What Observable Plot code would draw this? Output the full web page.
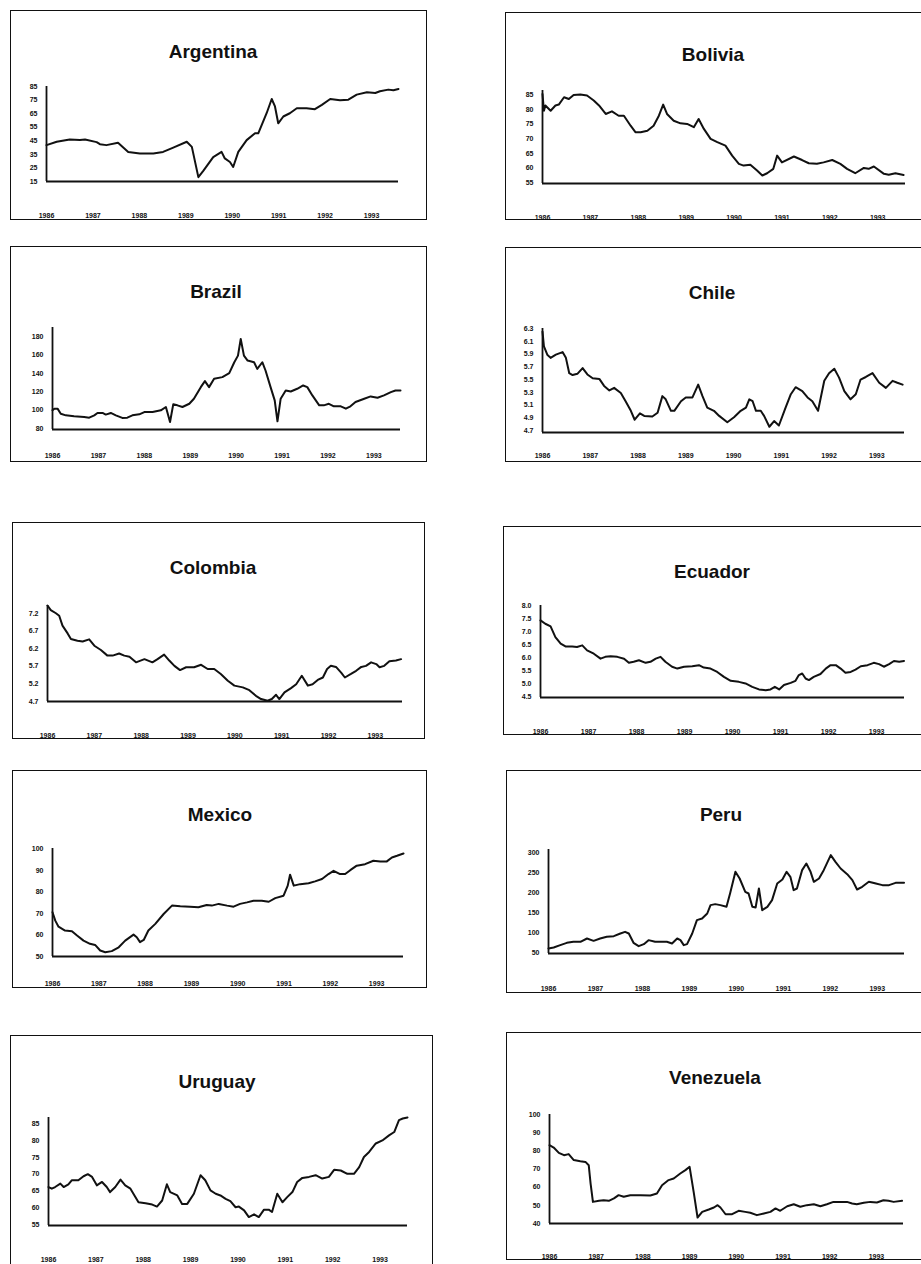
<!DOCTYPE html>
<html><head><meta charset="utf-8">
<script src="https://cdn.jsdelivr.net/npm/d3@7"></script>
<script src="https://cdn.jsdelivr.net/npm/@observablehq/plot@0.6"></script>
<style>
html,body{margin:0;padding:0;background:#fff;}
body{width:921px;height:1264px;position:relative;overflow:hidden;font-family:"Liberation Sans",Arial,sans-serif;}
.box{position:absolute;border:1.7px solid #111;box-sizing:border-box;}
.title{position:absolute;transform:translate(-50%,-50%);font-weight:bold;font-size:19px;color:#111;white-space:nowrap;}
</style></head><body>
<script>
// ---- data: [decimal year, value] ----
const yearTicks = [1986, 1987, 1988, 1989, 1990, 1991, 1992, 1993];

const argentina = [[1986.00,41.8],[1986.22,44.3],[1986.50,46],[1986.72,45.5],[1986.83,46],[1987.08,44],[1987.15,42.5],[1987.29,41.8],[1987.54,43.5],[1987.76,36.8],[1988.01,35.6],[1988.30,35.6],[1988.51,36.8],[1988.73,40],[1989.02,44.3],[1989.13,40.5],[1989.27,18.2],[1989.38,23],[1989.59,33],[1989.77,36.8],[1989.84,32],[1989.95,29.4],[1990.02,25.7],[1990.13,36.8],[1990.31,45.5],[1990.49,50.5],[1990.56,50.5],[1990.74,65.3],[1990.85,75.8],[1990.92,70.3],[1990.99,57.9],[1991.10,62.9],[1991.24,65.3],[1991.39,69],[1991.60,69],[1991.78,68.3],[1991.93,71.5],[1992.11,75.8],[1992.32,74.8],[1992.50,75.3],[1992.68,79],[1992.90,80.7],[1993.08,80.2],[1993.18,81.5],[1993.36,82.7],[1993.47,82.2],[1993.58,83.2]];

const bolivia = [[1986.00,85.2],[1986.03,79.5],[1986.06,81.3],[1986.17,79.5],[1986.27,81.3],[1986.34,81.6],[1986.45,84.1],[1986.55,83.5],[1986.65,84.9],[1986.79,85],[1986.93,84.7],[1987.07,83],[1987.18,81.3],[1987.32,78.4],[1987.45,79.3],[1987.59,77.8],[1987.70,77.8],[1987.84,74.4],[1987.94,72.2],[1988.05,72.2],[1988.19,72.7],[1988.32,74.4],[1988.43,77.8],[1988.52,81.6],[1988.60,78.4],[1988.74,76.1],[1988.88,75.2],[1989.02,75],[1989.16,73.9],[1989.26,76.7],[1989.37,73.3],[1989.51,69.9],[1989.65,68.8],[1989.82,67.6],[1989.96,64.2],[1990.10,61.4],[1990.20,60.8],[1990.34,61.1],[1990.48,59.1],[1990.59,57.4],[1990.69,58.2],[1990.82,59.7],[1990.90,64.2],[1991.00,61.9],[1991.25,63.9],[1991.42,62.7],[1991.56,61.6],[1991.73,61.4],[1991.87,61.9],[1992.05,62.7],[1992.22,61.4],[1992.36,59.7],[1992.53,58.2],[1992.71,60],[1992.81,59.7],[1992.92,60.5],[1993.13,58],[1993.23,57.7],[1993.37,58.2],[1993.54,57.6]];

const brazil = [[1986.00,99.9],[1986.04,101.7],[1986.11,101.7],[1986.18,96.2],[1986.29,94.4],[1986.47,93.4],[1986.69,92.6],[1986.80,91.9],[1986.91,94.4],[1986.98,97],[1987.09,97],[1987.16,95.2],[1987.27,97],[1987.38,94.4],[1987.52,91.6],[1987.63,91.9],[1987.74,94.4],[1987.89,95.5],[1988.00,98],[1988.18,98],[1988.36,99.9],[1988.47,103.5],[1988.50,98],[1988.56,87.2],[1988.63,106.4],[1988.72,105.3],[1988.83,103.5],[1988.98,107],[1989.08,112.5],[1989.23,125.1],[1989.32,131.6],[1989.41,125.1],[1989.52,134.2],[1989.70,136],[1989.85,140.3],[1989.96,152.2],[1990.04,159.4],[1990.10,177.5],[1990.17,159.4],[1990.25,154],[1990.39,152.2],[1990.46,145],[1990.57,152.2],[1990.64,143.2],[1990.75,125.1],[1990.84,110.7],[1990.90,87.9],[1990.97,112.5],[1991.08,121.5],[1991.19,120.4],[1991.33,123.3],[1991.46,126.9],[1991.55,125.1],[1991.66,116.1],[1991.81,105.3],[1991.91,105.3],[1992.02,107],[1992.13,104.2],[1992.28,104.2],[1992.39,101.7],[1992.49,104.2],[1992.60,108.9],[1992.79,112.5],[1992.93,115],[1993.08,113.6],[1993.22,116.1],[1993.37,119.7],[1993.47,121.5],[1993.58,121.5]];

const chile = [[1986.00,6.25],[1986.03,6.02],[1986.10,5.89],[1986.17,5.84],[1986.28,5.89],[1986.42,5.93],[1986.49,5.84],[1986.56,5.6],[1986.63,5.57],[1986.73,5.59],[1986.84,5.68],[1986.94,5.58],[1987.05,5.52],[1987.19,5.51],[1987.29,5.4],[1987.40,5.33],[1987.50,5.37],[1987.64,5.29],[1987.74,5.16],[1987.85,5.01],[1987.93,4.87],[1988.04,4.97],[1988.13,4.93],[1988.30,4.92],[1988.41,4.98],[1988.51,5.24],[1988.58,5.19],[1988.69,5.01],[1988.76,5.01],[1988.90,5.16],[1989.00,5.22],[1989.14,5.22],[1989.26,5.42],[1989.35,5.24],[1989.45,5.06],[1989.59,5.01],[1989.70,4.93],[1989.87,4.83],[1990.01,4.91],[1990.15,5.01],[1990.26,5.06],[1990.33,5.19],[1990.40,5.16],[1990.47,5.01],[1990.57,5.01],[1990.64,4.93],[1990.75,4.76],[1990.85,4.85],[1990.95,4.78],[1991.09,5.06],[1991.20,5.27],[1991.30,5.38],[1991.44,5.32],[1991.55,5.22],[1991.65,5.16],[1991.77,5.01],[1991.90,5.48],[1992.00,5.6],[1992.11,5.67],[1992.21,5.53],[1992.32,5.32],[1992.45,5.19],[1992.56,5.27],[1992.66,5.5],[1992.77,5.54],[1992.91,5.6],[1993.05,5.45],[1993.19,5.37],[1993.33,5.48],[1993.43,5.45],[1993.54,5.42]];

const colombia = [[1986.00,7.42],[1986.07,7.29],[1986.18,7.2],[1986.25,7.13],[1986.32,6.85],[1986.43,6.63],[1986.50,6.47],[1986.64,6.42],[1986.75,6.4],[1986.89,6.46],[1987.00,6.28],[1987.14,6.16],[1987.28,6.0],[1987.39,6.0],[1987.53,6.06],[1987.64,6.0],[1987.75,5.97],[1987.89,5.81],[1988.07,5.9],[1988.24,5.81],[1988.35,5.9],[1988.49,6.03],[1988.60,5.86],[1988.71,5.71],[1988.83,5.59],[1988.96,5.67],[1989.13,5.67],[1989.28,5.74],[1989.42,5.62],[1989.56,5.62],[1989.70,5.48],[1989.85,5.29],[1989.99,5.15],[1990.17,5.1],[1990.31,5.02],[1990.45,4.86],[1990.56,4.77],[1990.70,4.72],[1990.79,4.77],[1990.88,4.89],[1990.95,4.77],[1991.06,4.96],[1991.20,5.08],[1991.31,5.19],[1991.43,5.43],[1991.56,5.15],[1991.66,5.19],[1991.77,5.31],[1991.88,5.38],[1991.97,5.62],[1992.05,5.71],[1992.16,5.68],[1992.27,5.52],[1992.35,5.38],[1992.48,5.48],[1992.59,5.57],[1992.70,5.68],[1992.80,5.71],[1992.91,5.81],[1993.02,5.76],[1993.09,5.67],[1993.19,5.71],[1993.30,5.84],[1993.44,5.86],[1993.55,5.9]];

const ecuador = [[1986.00,7.43],[1986.10,7.3],[1986.21,7.2],[1986.31,6.79],[1986.42,6.54],[1986.52,6.43],[1986.66,6.43],[1986.76,6.41],[1986.87,6.47],[1986.97,6.28],[1987.11,6.15],[1987.25,5.96],[1987.35,6.03],[1987.46,6.05],[1987.60,6.03],[1987.74,5.96],[1987.84,5.8],[1987.94,5.84],[1988.05,5.9],[1988.19,5.8],[1988.29,5.84],[1988.40,5.96],[1988.50,6.03],[1988.60,5.84],[1988.74,5.65],[1988.85,5.58],[1988.99,5.65],[1989.16,5.67],[1989.30,5.71],[1989.40,5.62],[1989.54,5.58],[1989.68,5.45],[1989.82,5.26],[1989.96,5.11],[1990.13,5.07],[1990.27,5.01],[1990.41,4.88],[1990.55,4.78],[1990.69,4.75],[1990.79,4.78],[1990.88,4.88],[1990.97,4.78],[1991.07,4.95],[1991.21,5.03],[1991.31,5.11],[1991.38,5.33],[1991.45,5.39],[1991.52,5.2],[1991.59,5.14],[1991.69,5.26],[1991.83,5.37],[1991.94,5.58],[1992.04,5.71],[1992.15,5.71],[1992.25,5.58],[1992.35,5.42],[1992.46,5.45],[1992.56,5.54],[1992.67,5.67],[1992.81,5.71],[1992.94,5.8],[1993.05,5.75],[1993.15,5.65],[1993.26,5.75],[1993.36,5.87],[1993.47,5.84],[1993.57,5.87]];

const mexico = [[1986.00,70.6],[1986.06,66.7],[1986.13,63.9],[1986.27,62.1],[1986.42,61.8],[1986.53,59.8],[1986.67,57.4],[1986.81,55.9],[1986.92,55.4],[1987.03,52.8],[1987.14,52],[1987.28,52.5],[1987.43,54.3],[1987.57,57.4],[1987.75,60.2],[1987.82,59],[1987.89,56.7],[1987.97,57.7],[1988.07,62.1],[1988.22,65.2],[1988.40,69.8],[1988.58,73.7],[1988.76,73.4],[1988.97,73.2],[1989.15,72.9],[1989.33,74],[1989.44,73.7],[1989.59,74.5],[1989.77,73.7],[1989.91,73.2],[1990.05,74.5],[1990.20,75.2],[1990.34,76],[1990.52,76],[1990.67,75.5],[1990.81,77.2],[1990.99,78.3],[1991.08,83],[1991.13,88.1],[1991.21,83],[1991.35,83.7],[1991.53,84.1],[1991.67,85],[1991.82,86.1],[1991.96,88.4],[1992.07,89.9],[1992.21,88.4],[1992.32,88.4],[1992.43,90.2],[1992.57,92.3],[1992.75,93],[1992.93,94.6],[1993.08,94.3],[1993.22,94.3],[1993.33,96.1],[1993.44,96.9],[1993.58,98]];

const peru = [[1986.00,60.8],[1986.11,63.3],[1986.25,69.2],[1986.39,75],[1986.53,77.5],[1986.68,77.5],[1986.82,85.8],[1986.96,80],[1987.10,85.8],[1987.24,90],[1987.39,91.7],[1987.53,98.3],[1987.63,102.5],[1987.71,98.3],[1987.81,75],[1987.92,66.7],[1988.03,71.7],[1988.13,81.7],[1988.27,77.5],[1988.42,77.5],[1988.52,77.5],[1988.63,73.3],[1988.74,85.8],[1988.81,81.7],[1988.88,69.2],[1988.95,71.7],[1989.06,98.3],[1989.16,131.7],[1989.27,135.8],[1989.38,148.3],[1989.45,169.2],[1989.55,171.7],[1989.66,169.2],[1989.79,165],[1989.87,200],[1989.98,252.5],[1990.07,235.8],[1990.19,202.5],[1990.26,198.3],[1990.34,165],[1990.41,163.3],[1990.48,210.8],[1990.55,156.7],[1990.66,165],[1990.76,181.7],[1990.87,223.3],[1990.98,233.3],[1991.07,252.5],[1991.15,240],[1991.22,206.7],[1991.29,210.8],[1991.40,256.7],[1991.49,273.3],[1991.58,252.5],[1991.65,227.5],[1991.76,235.8],[1991.86,256.7],[1992.01,294.2],[1992.11,277.5],[1992.22,260.8],[1992.36,246.7],[1992.47,231.7],[1992.57,208.3],[1992.68,215],[1992.82,227.5],[1992.97,223.3],[1993.11,219.2],[1993.25,219.2],[1993.39,225],[1993.57,225]];

const uruguay = [[1986.00,66.2],[1986.07,65.7],[1986.14,66.2],[1986.25,67.2],[1986.32,66.2],[1986.42,67],[1986.49,68.2],[1986.63,68.2],[1986.74,69.4],[1986.83,70],[1986.92,69.2],[1987.02,66.7],[1987.13,67.7],[1987.23,66.2],[1987.30,64.7],[1987.41,66.2],[1987.52,68.4],[1987.62,66.7],[1987.73,65.7],[1987.90,61.7],[1988.05,61.4],[1988.19,61],[1988.29,60.4],[1988.40,62.2],[1988.50,67],[1988.57,64.7],[1988.72,63.7],[1988.82,61.2],[1988.93,61.2],[1989.07,64.2],[1989.21,69.7],[1989.31,68.2],[1989.42,65.2],[1989.53,64.2],[1989.63,63.7],[1989.74,62.7],[1989.84,62],[1989.95,60.2],[1990.02,60.4],[1990.13,59.3],[1990.23,57.3],[1990.34,58.1],[1990.44,57.3],[1990.55,59.5],[1990.65,59.5],[1990.72,58.8],[1990.83,64.2],[1990.94,61.7],[1991.04,63.2],[1991.15,64.7],[1991.25,67.7],[1991.36,68.9],[1991.50,69.2],[1991.64,69.7],[1991.78,68.7],[1991.92,69.2],[1992.03,71.3],[1992.17,71.1],[1992.31,70.1],[1992.45,70.1],[1992.56,72.1],[1992.66,75.1],[1992.77,76.6],[1992.91,79.1],[1993.05,80],[1993.19,81.5],[1993.30,82.5],[1993.40,86],[1993.48,86.5],[1993.58,86.8]];

const venezuela = [[1986.00,83.1],[1986.09,81.8],[1986.20,78.9],[1986.31,77.6],[1986.41,78.2],[1986.52,74.9],[1986.66,74.3],[1986.77,73.9],[1986.84,72.1],[1986.88,62],[1986.93,51.9],[1987.06,52.5],[1987.16,52.8],[1987.27,52.5],[1987.38,53.8],[1987.48,55.6],[1987.59,54.7],[1987.73,55.6],[1987.95,55.6],[1988.16,55.4],[1988.30,56.5],[1988.41,61.1],[1988.55,63.9],[1988.66,64.8],[1988.80,67.5],[1988.91,69.4],[1989.00,71.2],[1989.09,56.9],[1989.17,43.3],[1989.27,46.4],[1989.41,47.7],[1989.52,48.8],[1989.60,50.1],[1989.66,48.8],[1989.77,45.1],[1989.91,45.1],[1990.05,47],[1990.19,46.4],[1990.30,45.9],[1990.44,44.6],[1990.59,45.5],[1990.73,46.4],[1990.84,48.3],[1990.94,47],[1991.09,49.5],[1991.23,50.6],[1991.37,49.2],[1991.51,50.1],[1991.66,50.6],[1991.80,49.5],[1991.94,50.6],[1992.08,51.9],[1992.23,51.9],[1992.37,51.9],[1992.48,51],[1992.58,50.6],[1992.73,51.4],[1992.87,51.9],[1993.01,51.6],[1993.15,52.8],[1993.26,52.5],[1993.37,51.9],[1993.55,52.5]];

// ---- y tick labels ----
const argentinaTicks = [15, 25, 35, 45, 55, 65, 75, 85];
const boliviaTicks = [55, 60, 65, 70, 75, 80, 85];
const brazilTicks = [80, 100, 120, 140, 160, 180];
const chileTicks = [4.7, 4.9, 5.1, 5.3, 5.5, 5.7, 5.9, 6.1, 6.3];
const colombiaTicks = [4.7, 5.2, 5.7, 6.2, 6.7, 7.2];
const ecuadorTicks = [4.5, 5.0, 5.5, 6.0, 6.5, 7.0, 7.5, 8.0];
const mexicoTicks = [50, 60, 70, 80, 90, 100];
const peruTicks = [50, 100, 150, 200, 250, 300];
const uruguayTicks = [55, 60, 65, 70, 75, 80, 85];
const venezuelaTicks = [40, 50, 60, 70, 80, 90, 100];

// ---- layout (box: l,t,r,b ; axis: x0,x1,top,bottom ; title centre) ----
const panels = [
  {name:"Argentina", data:argentina, ticks:argentinaTicks, dom:[15,85], fmt:"d", box:[10,10,427,220], axis:[46,398,86,181], title:[213,52], xl:216},
  {name:"Bolivia", data:bolivia, ticks:boliviaTicks, dom:[54.7,86.4], fmt:"d", box:[505,12,925,220], axis:[542,905,90,183], title:[713,55], xl:218},
  {name:"Brazil", data:brazil, ticks:brazilTicks, dom:[79,190], fmt:"d", box:[10,246,427,462], axis:[52,400,327,429], title:[216,292], xl:456},
  {name:"Chile", data:chile, ticks:chileTicks, dom:[4.67,6.3], fmt:".1f", box:[505,247,925,462], axis:[542,904,328,432], title:[712,293], xl:456},
  {name:"Colombia", data:colombia, ticks:colombiaTicks, dom:[4.7,7.42], fmt:".1f", box:[12,522,425,739], axis:[47,402,605,701], title:[213,568], xl:736},
  {name:"Ecuador", data:ecuador, ticks:ecuadorTicks, dom:[4.47,8.0], fmt:".1f", box:[503,526,925,735], axis:[540,904,605,697], title:[712,572], xl:732},
  {name:"Mexico", data:mexico, ticks:mexicoTicks, dom:[50,100.3], fmt:"d", box:[12,770,427,988], axis:[52,403,848,956], title:[220,815], xl:984},
  {name:"Peru", data:peru, ticks:peruTicks, dom:[48.3,308.3], fmt:"d", box:[506,770,925,993], axis:[548,904,849,953], title:[721,815], xl:989},
  {name:"Uruguay", data:uruguay, ticks:uruguayTicks, dom:[54.8,86.8], fmt:"d", box:[10,1035,433,1280], axis:[48,407,1117,1225], title:[217,1082], xl:1260},
  {name:"Venezuela", data:venezuela, ticks:venezuelaTicks, dom:[40,100], fmt:"d", box:[506,1032,925,1260], axis:[549,903,1114,1223], title:[715,1078], xl:1257}
];

for (const p of panels) {
  const [bl, bt, br, bb] = p.box;
  const [ax0, ax1, ayt, ayb] = p.axis;
  const box = document.createElement("div");
  box.className = "box";
  Object.assign(box.style, {left: bl + "px", top: bt + "px", width: (br - bl) + "px", height: (bb - bt) + "px"});
  document.body.appendChild(box);

  const chart = Plot.plot({
    width: br - bl,
    height: bb - bt,
    marginLeft: ax0 - bl,
    marginRight: br - ax1,
    marginTop: ayt - bt,
    marginBottom: bb - ayb,
    style: {fontFamily: "'Liberation Sans', Arial, sans-serif", fontSize: "7px", fontWeight: "bold", color: "#111", background: "transparent", overflow: "visible"},
    x: {type: "linear", domain: [1986, 1993.58], ticks: yearTicks, tickFormat: d => String(d), tickSize: 0, tickPadding: p.xl - ayb - 3, label: null},
    y: {type: "linear", domain: p.dom, ticks: p.ticks, tickFormat: d3.format(p.fmt), tickSize: 0, tickPadding: 9, label: null},
    marks: [
      Plot.ruleX([1986], {stroke: "#111", strokeWidth: 1.8}),
      Plot.ruleY([p.dom[0]], {stroke: "#111", strokeWidth: 1.8}),
      Plot.line(p.data, {x: d => d[0], y: d => d[1], stroke: "#111", strokeWidth: 2, strokeLinejoin: "round"})
    ]
  });
  Object.assign(chart.style, {position: "absolute", left: bl + "px", top: bt + "px", maxWidth: "none"});
  document.body.appendChild(chart);

  const t = document.createElement("div");
  t.className = "title";
  t.textContent = p.name;
  Object.assign(t.style, {left: p.title[0] + "px", top: p.title[1] + "px"});
  document.body.appendChild(t);
}
</script>
</body></html>
